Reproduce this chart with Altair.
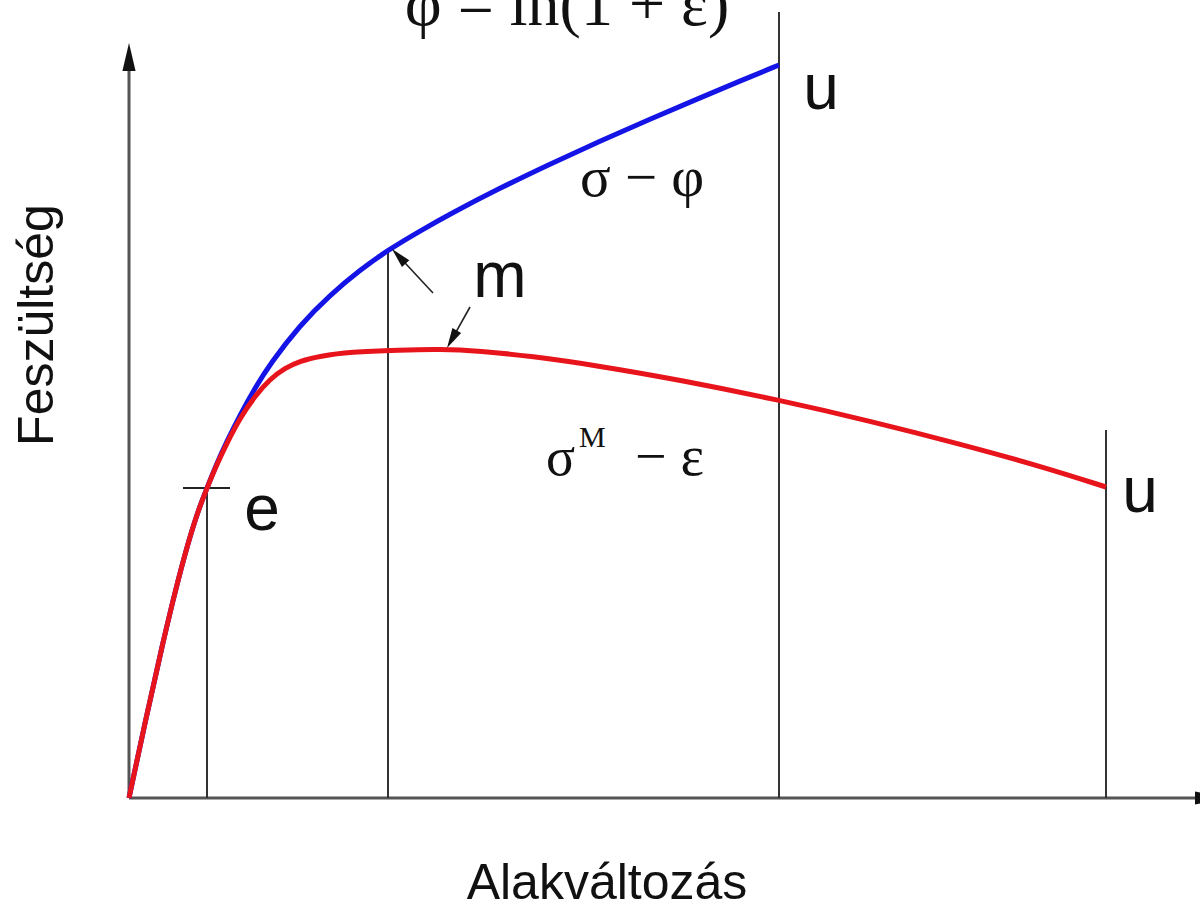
import math
import altair as alt
import pandas as pd

# Engineering stress-strain curve (sigma^M - epsilon), arbitrary units
eng_strain = [0.000, 0.017, 0.034, 0.047, 0.059, 0.069, 0.078, 0.088, 0.098, 0.111,
              0.126, 0.141, 0.156, 0.171, 0.191, 0.221, 0.271, 0.311, 0.351, 0.401,
              0.471, 0.551, 0.650, 0.741, 0.831, 0.911, 0.977]
eng_stress = [0.000, 0.080, 0.156, 0.210, 0.255, 0.287, 0.310, 0.334, 0.355, 0.380,
              0.402, 0.419, 0.430, 0.437, 0.442, 0.446, 0.448, 0.449, 0.447, 0.442,
              0.432, 0.418, 0.398, 0.377, 0.354, 0.332, 0.311]

# True stress - true strain curve (sigma - phi)
true_strain = [0.000, 0.017, 0.034, 0.047, 0.059, 0.069, 0.078, 0.088, 0.098, 0.111,
               0.126, 0.141, 0.171, 0.201, 0.231, 0.259, 0.291, 0.321, 0.371, 0.421,
               0.471, 0.521, 0.571, 0.611, 0.650]
true_stress = [0.000, 0.080, 0.156, 0.210, 0.255, 0.287, 0.310, 0.335, 0.357, 0.383,
               0.410, 0.434, 0.473, 0.503, 0.528, 0.548, 0.567, 0.584, 0.610, 0.634,
               0.657, 0.679, 0.700, 0.717, 0.733]

# Characteristic points: e (elastic limit), m (maximum), u (fracture)
E_IDX = 6
M_IDX = 15
guide_x = [eng_strain[E_IDX], true_strain[M_IDX], true_strain[-1], eng_strain[-1]]
guide_top = [eng_stress[E_IDX], true_stress[M_IDX], 0.786, 0.368]

X_DOMAIN = [-0.129, 1.071]
Y_DOMAIN = [-0.113, 0.798]
PX_PER_UNIT = 1000.0

xs = alt.Scale(domain=X_DOMAIN, nice=False, zero=False)
ys = alt.Scale(domain=Y_DOMAIN, nice=False, zero=False)


def X(field):
    return alt.X(field, type="quantitative", scale=xs, axis=None)


def Y(field):
    return alt.Y(field, type="quantitative", scale=ys, axis=None)


eng_df = pd.DataFrame({"strain": eng_strain, "stress": eng_stress})
true_df = pd.DataFrame({"strain": true_strain, "stress": true_stress})

blue = alt.Chart(true_df).mark_line(color="#1414e6", strokeWidth=5, interpolate="basis").encode(
    x=X("strain"), y=Y("stress"), order="strain:Q")
red = alt.Chart(eng_df).mark_line(color="#e8141c", strokeWidth=5, interpolate="basis").encode(
    x=X("strain"), y=Y("stress"), order="strain:Q")

guides_df = pd.DataFrame({"x": guide_x, "y0": [0.0] * 4, "y1": guide_top})
guides = alt.Chart(guides_df).mark_rule(color="#333333", strokeWidth=2).encode(
    x=X("x"), y=Y("y0"), y2="y1")

# short horizontal tick marking point e
e_tick_df = pd.DataFrame({"x0": [eng_strain[E_IDX] - 0.024], "x1": [eng_strain[E_IDX] + 0.023],
                          "y": [eng_stress[E_IDX]]})
e_tick = alt.Chart(e_tick_df).mark_rule(color="#222222", strokeWidth=2).encode(
    x=X("x0"), x2="x1", y=Y("y"))

# coordinate axes with arrowheads
axes_df = pd.DataFrame({"x0": [0.0, 0.0], "x1": [1.08, 0.0], "y0": [0.0, 0.0], "y1": [0.0, 0.735]})
axes = alt.Chart(axes_df).mark_rule(color="#555555", strokeWidth=3).encode(
    x=X("x0"), x2="x1", y=Y("y0"), y2="y1")

ARROW = "M0,-1L0.47,1L-0.47,1Z"
axis_heads_df = pd.DataFrame({"x": [1.080, 0.0], "y": [0.0, 0.741], "angle": [90, 0]})
axis_heads = alt.Chart(axis_heads_df).mark_point(
    shape=ARROW, filled=True, color="#111111", opacity=1, size=784, strokeWidth=0).encode(
    x=X("x"), y=Y("y"), angle=alt.Angle("angle:Q", scale=None))

# pointer arrows from label m to the two maxima
tips = [(true_strain[M_IDX] + 0.004, true_stress[M_IDX] + 0.001), (0.318, 0.450)]
tails = [(0.304, 0.505), (0.341, 0.491)]
HEAD_LEN = 20.0
rows = []
for (tx, ty), (sx, sy) in zip(tips, tails):
    dx, dy = tx - sx, ty - sy
    n = math.hypot(dx, dy)
    ux, uy = dx / n, dy / n
    cx = tx - ux * (HEAD_LEN / 2) / PX_PER_UNIT
    cy = ty - uy * (HEAD_LEN / 2) / PX_PER_UNIT
    ang = math.degrees(math.atan2(ux, uy)) % 360
    rows.append({"sx": sx, "sy": sy, "cx": cx, "cy": cy, "angle": ang})
ptr_df = pd.DataFrame(rows)
ptr_lines = alt.Chart(ptr_df).mark_rule(color="#222222", strokeWidth=1.6).encode(
    x=X("sx"), x2="cx", y=Y("sy"), y2="cy")
ptr_heads = alt.Chart(ptr_df).mark_point(
    shape="M0,-1L0.5,1L-0.5,1Z", filled=True, color="#111111", opacity=1, size=400, strokeWidth=0).encode(
    x=X("cx"), y=Y("cy"), angle=alt.Angle("angle:Q", scale=None))

SANS = "Liberation Sans"
SERIF = "Liberation Serif"


def label(text, x, y, size, font, dx=0, dy=0, align="center", angle=0):
    df = pd.DataFrame({"x": [x], "y": [y], "t": [text]})
    return alt.Chart(df).mark_text(
        font=font, fontSize=size, align=align, baseline="alphabetic",
        dx=dx, dy=dy, angle=angle, color="#111111").encode(
        x=X("x"), y=Y("y"), text="t:N")


texts = [
    label("u", true_strain[-1], true_stress[-1], 64, SANS, dx=42, dy=44),
    label("u", eng_strain[-1], eng_stress[-1], 64, SANS, dx=34, dy=25),
    label("e", eng_strain[E_IDX], eng_stress[E_IDX], 64, SANS, dx=55, dy=42),
    label("m", true_strain[M_IDX], true_stress[M_IDX], 64, SANS, dx=112, dy=47),
    label("σ − φ", 0.451, 0.602, 57, SERIF, align="left"),
    label("σ", 0.417, 0.323, 54, SERIF, align="left"),
    label("M", 0.450, 0.351, 30, SERIF, align="left"),
    label("− ε", 0.506, 0.323, 56, SERIF, align="left"),
    label("φ = ln(1 + ε)", 0.438, 0.773, 64, SERIF),
    label("Alakváltozás", 0.478, -0.101, 50, SANS),
    label("Feszültség", -0.076, 0.473, 50, SANS, angle=270),
]

chart = alt.layer(
    axes, axis_heads, guides, e_tick, blue, red, ptr_lines, ptr_heads, *texts
).properties(
    width=1200, height=911, padding=0,
    autosize=alt.AutoSizeParams(type="none"),
    background="white",
).configure_view(stroke=None)

chart.save("out.html", embed_options={"renderer": "svg", "actions": False})
